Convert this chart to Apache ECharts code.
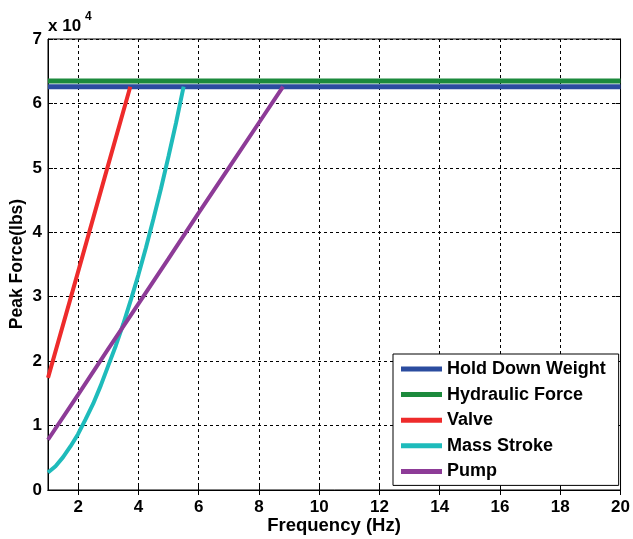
<!DOCTYPE html>
<html>
<head>
<meta charset="utf-8">
<script src="https://cdn.jsdelivr.net/npm/echarts@6/dist/echarts.min.js"></script>
<style>html,body{margin:0;padding:0;background:#fff;}#c{width:633px;height:539px;}</style>
</head>
<body>
<div id="c"></div>
<script>
// ---- data ----
var seriesNames = ['Hold Down Weight', 'Hydraulic Force', 'Valve', 'Mass Stroke', 'Pump'];
var xTicks = [2, 4, 6, 8, 10, 12, 14, 16, 18, 20];
var yTicks = [0, 1, 2, 3, 4, 5, 6, 7];

var holdDownFreq = [1, 20];
var holdDown = [62600, 62600];

var hydraulicFreq = [1, 20];
var hydraulic = [63500, 63500];

var valveFreq = [1, 2, 3, 3.73];
var valve = [17400, 33900, 50500, 62600];

var massFreq = [1, 1.25, 1.5, 1.75, 2, 2.25, 2.5, 2.75, 3, 3.25, 3.5, 3.75, 4, 4.25, 4.5, 4.75, 5, 5.25, 5.5];
var mass = [2700, 3700, 5100, 6800, 8700, 11000, 13400, 16200, 19300, 22400, 25800, 29500, 33400, 37600, 42100, 46800, 51800, 57000, 62600];

var pumpFreq = [1, 2, 3, 4, 5, 6, 7, 8, 8.8];
var pump = [7800, 14800, 21900, 28900, 35900, 43000, 50000, 57000, 62600];

var colors = ['#2B4C9F', '#1C8A3C', '#EE2B2B', '#1EBBBB', '#8D3B97'];

function pairs(xs, ys) { return xs.map(function (x, i) { return [x, ys[i]]; }); }

var chart = echarts.init(document.getElementById('c'), null, { renderer: 'canvas' });

var font = 'Liberation Sans, Arial, sans-serif';
var gridLine = { show: true, lineStyle: { color: '#000', width: 1, type: [3, 3] } };

function mkSeries(name, data, color, width) {
  return {
    name: name, type: 'line', data: data, showSymbol: false, symbol: 'none',
    lineStyle: { color: color, width: width }, itemStyle: { color: color },
    animation: false, silent: true
  };
}

chart.setOption({
  animation: false,
  color: colors,
  grid: { left: 48, right: 9, top: 39, bottom: 49, show: true, borderColor: '#000', borderWidth: 1, containLabel: false },
  xAxis: [{
    type: 'value', min: 1, max: 20,
    axisLine: { show: true, lineStyle: { color: '#000', width: 1 } },
    axisTick: { show: true, inside: true, length: 5, lineStyle: { color: '#000' }, customValues: xTicks },
    axisLabel: { show: true, customValues: xTicks, color: '#000', fontFamily: font, fontWeight: 'bold', fontSize: 17, margin: 9 },
    splitLine: gridLine
  }, {
    type: 'value', min: 1, max: 20, position: 'top',
    axisLine: { show: true, lineStyle: { color: '#000', width: 1 } },
    axisTick: { show: true, inside: true, length: 5, lineStyle: { color: '#000' }, customValues: xTicks },
    axisLabel: { show: false }, splitLine: { show: false }
  }],
  yAxis: [{
    type: 'value', min: 0, max: 70000, interval: 10000,
    axisLine: { show: true, lineStyle: { color: '#000', width: 1 } },
    axisTick: { show: true, inside: true, length: 5, lineStyle: { color: '#000' } },
    axisLabel: { color: '#000', fontFamily: font, fontWeight: 'bold', fontSize: 17, margin: 6,
      formatter: function (v) { return String(yTicks[Math.round(v / 10000)]); } },
    splitLine: gridLine
  }, {
    type: 'value', min: 0, max: 70000, interval: 10000, position: 'right',
    axisLine: { show: true, lineStyle: { color: '#000', width: 1 } },
    axisTick: { show: true, inside: true, length: 5, lineStyle: { color: '#000' } },
    axisLabel: { show: false }, splitLine: { show: false }
  }],
  legend: {
    show: true, orient: 'vertical', left: 393, top: 354,
    data: seriesNames,
    icon: 'rect', itemWidth: 41, itemHeight: 5, itemGap: 5.6,
    padding: [5, 13, 4, 8],
    backgroundColor: '#fff', borderColor: '#000', borderWidth: 1,
    textStyle: { color: '#000', fontFamily: font, fontWeight: 'bold', fontSize: 18, lineHeight: 20 },
    selectedMode: false
  },
  graphic: [
    { type: 'text', left: 48, top: 18, style: { text: 'x 10', fill: '#000', font: 'bold 17px ' + font } },
    { type: 'text', left: 85, top: 11, style: { text: '4', fill: '#000', font: 'bold 12px ' + font } },
    { type: 'text', x: 17.5, y: 264, rotation: Math.PI / 2,
      style: { text: 'Peak Force(lbs)', fill: '#000', font: 'bold 17.5px ' + font, align: 'center', verticalAlign: 'middle' } },
    { type: 'text', x: 334, y: 526,
      style: { text: 'Frequency (Hz)', fill: '#000', font: 'bold 18.5px ' + font, align: 'center', verticalAlign: 'middle' } }
  ],
  series: [
    mkSeries(seriesNames[0], pairs(holdDownFreq, holdDown), colors[0], 5),
    mkSeries(seriesNames[1], pairs(hydraulicFreq, hydraulic), colors[1], 5),
    mkSeries(seriesNames[2], pairs(valveFreq, valve), colors[2], 4),
    mkSeries(seriesNames[3], pairs(massFreq, mass), colors[3], 4),
    mkSeries(seriesNames[4], pairs(pumpFreq, pump), colors[4], 4)
  ]
});
</script>
</body>
</html>
